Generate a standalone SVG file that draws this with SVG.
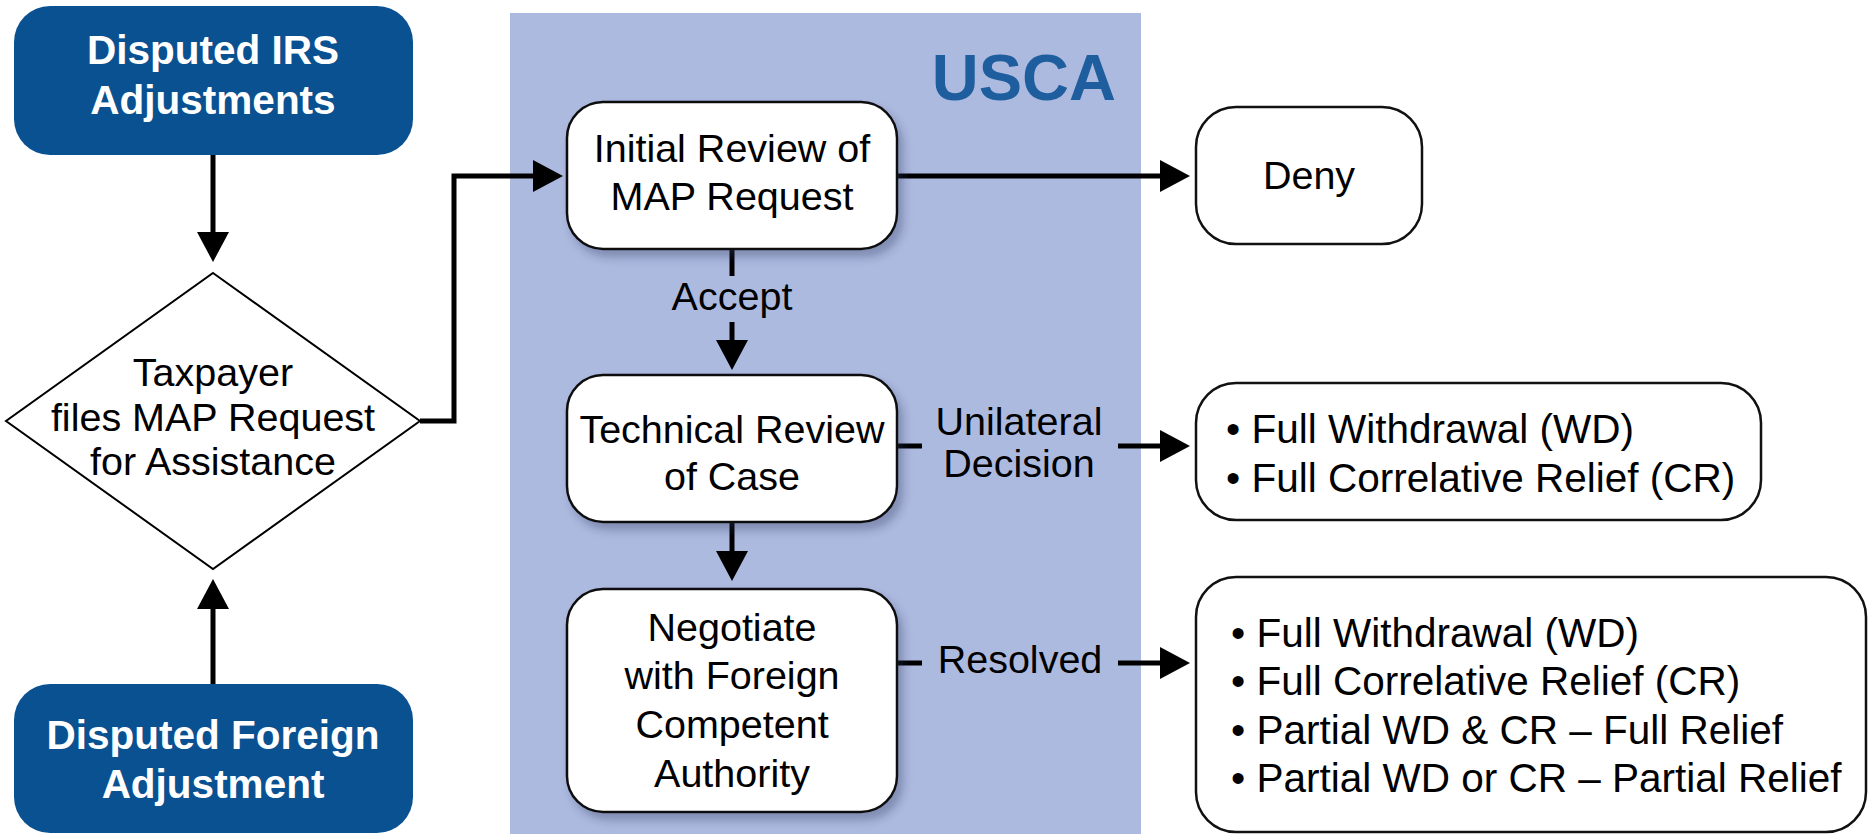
<svg xmlns="http://www.w3.org/2000/svg" width="1870" height="834" viewBox="0 0 1870 834">
<defs>
<style>
.t{font-family:"Liberation Sans",Arial,sans-serif;font-size:39.5px;fill:#000;text-anchor:middle}
.tl{font-family:"Liberation Sans",Arial,sans-serif;font-size:40.5px;fill:#000}
.tb{font-family:"Liberation Sans",Arial,sans-serif;font-size:40.5px;font-weight:bold;fill:#fff;text-anchor:middle}
.blue{fill:#0a5191;stroke:none}
.box{fill:#fff;stroke:#111;stroke-width:2.5}
.c{fill:none;stroke:#000;stroke-width:5}
</style>
<marker id="ah" viewBox="0 0 30 32" refX="20" refY="16" markerWidth="30" markerHeight="32" markerUnits="userSpaceOnUse" orient="auto">
<path d="M0,0 L30,16 L0,32 Z" fill="#000"/>
</marker>
<filter id="sh" x="-10%" y="-10%" width="130%" height="130%">
<feDropShadow dx="5" dy="7" stdDeviation="5" flood-color="#2a3560" flood-opacity="0.35"/>
</filter>
</defs>
<rect width="1870" height="834" fill="#fff"/>
<g id="usca-panel">
<rect x="510" y="13" width="631" height="821" fill="#adbadf"/>
<text x="1116" y="100" style="font-family:'Liberation Sans',Arial,sans-serif;font-size:65px;font-weight:bold;fill:#1f5e9e;text-anchor:end">USCA</text>
</g>
<g id="connectors">
<line class="c" x1="213" y1="155" x2="213" y2="252" marker-end="url(#ah)"/>
<line class="c" x1="213" y1="684" x2="213" y2="589" marker-end="url(#ah)"/>
<polyline class="c" points="420,421 454,421 454,176 553,176" marker-end="url(#ah)"/>
<line class="c" x1="897" y1="176" x2="1180" y2="176" marker-end="url(#ah)"/>
<line class="c" x1="732" y1="249" x2="732" y2="276"/>
<text class="t" x="732" y="310">Accept</text>
<line class="c" x1="732" y1="322" x2="732" y2="360" marker-end="url(#ah)"/>
<line class="c" x1="732" y1="522" x2="732" y2="571" marker-end="url(#ah)"/>
<line class="c" x1="897" y1="446" x2="922" y2="446"/>
<text class="t" x="1019" y="435">Unilateral</text>
<text class="t" x="1019" y="477">Decision</text>
<line class="c" x1="1118" y1="446" x2="1180" y2="446" marker-end="url(#ah)"/>
<line class="c" x1="897" y1="663" x2="922" y2="663"/>
<text class="t" x="1020" y="673">Resolved</text>
<line class="c" x1="1118" y1="663" x2="1180" y2="663" marker-end="url(#ah)"/>
</g>
<g id="disputed-irs">
<rect class="blue" x="14" y="6" width="399" height="149" rx="36"/>
<text class="tb" x="213" y="64">Disputed IRS</text>
<text class="tb" x="213" y="114">Adjustments</text>
</g>
<g id="taxpayer-map">
<polygon points="213,273 420,421 213,569 6,421" fill="#fff" stroke="#000" stroke-width="2"/>
<text class="t" x="213" y="386">Taxpayer</text>
<text class="t" x="213" y="431">files MAP Request</text>
<text class="t" x="213" y="475">for Assistance</text>
</g>
<g id="disputed-foreign">
<rect class="blue" x="14" y="684" width="399" height="149" rx="36"/>
<text class="tb" x="213" y="749">Disputed Foreign</text>
<text class="tb" x="213" y="798">Adjustment</text>
</g>
<g id="initial-review">
<rect class="box" x="567" y="102" width="330" height="147" rx="36" filter="url(#sh)"/>
<text class="t" x="732" y="162">Initial Review of</text>
<text class="t" x="732" y="210">MAP Request</text>
</g>
<g id="technical-review">
<rect class="box" x="567" y="375" width="330" height="147" rx="36" filter="url(#sh)"/>
<text class="t" x="732" y="443">Technical Review</text>
<text class="t" x="732" y="490">of Case</text>
</g>
<g id="negotiate">
<rect class="box" x="567" y="589" width="330" height="223" rx="36" filter="url(#sh)"/>
<text class="t" x="732" y="641">Negotiate</text>
<text class="t" x="732" y="689">with Foreign</text>
<text class="t" x="732" y="738">Competent</text>
<text class="t" x="732" y="787">Authority</text>
</g>
<g id="deny">
<rect class="box" x="1196" y="107" width="226" height="137" rx="40"/>
<text class="t" x="1309" y="189">Deny</text>
</g>
<g id="unilateral-outcomes">
<rect class="box" x="1196" y="383" width="565" height="137" rx="40"/>
<text class="tl" x="1226" y="443">• Full Withdrawal (WD)</text>
<text class="tl" x="1226" y="492">• Full Correlative Relief (CR)</text>
</g>
<g id="resolved-outcomes">
<rect class="box" x="1196" y="577" width="670" height="255" rx="40"/>
<text class="tl" x="1231" y="647">• Full Withdrawal (WD)</text>
<text class="tl" x="1231" y="695">• Full Correlative Relief (CR)</text>
<text class="tl" x="1231" y="744">• Partial WD &amp; CR – Full Relief</text>
<text class="tl" x="1231" y="792">• Partial WD or CR – Partial Relief</text>
</g>
</svg>
